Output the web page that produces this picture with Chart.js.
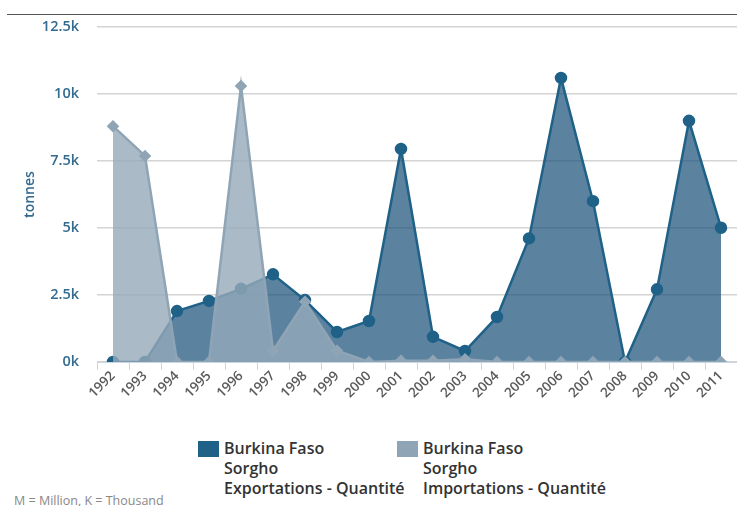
<!DOCTYPE html>
<html>
<head>
<meta charset="utf-8">
<script src="https://cdn.jsdelivr.net/npm/chart.js@4/dist/chart.umd.min.js"></script>
<style>
  body { margin: 0; background: #fff; font-family: "Open Sans", sans-serif; }
  #wrap { position: relative; width: 737px; height: 506px; overflow: hidden; }
  #topline { position: absolute; left: 7px; right: 0; top: 14px; border-top: 1px solid #555; }
  #chartBox { position: absolute; left: 0; top: 0; width: 737px; height: 420px; }
  .legend-item { position: absolute; top: 438px; font-size: 16px; font-weight: 600; color: #333; line-height: 20px; }
  .legend-box { position: absolute; left: 0; top: 3px; width: 21px; height: 16px; }
  .legend-text { margin-left: 26px; white-space: nowrap; }
  #note { position: absolute; left: 14px; top: 492px; font-size: 12.5px; color: #888; }
</style>
</head>
<body>
<div id="wrap">
  <div id="topline"></div>
  <div id="chartBox"><canvas id="sorghoChart" width="737" height="420"></canvas></div>
  <div id="legend"></div>
  <div id="note">M = Million, K = Thousand</div>
</div>
<script>
const years = ["1992", "1993", "1994", "1995", "1996", "1997", "1998", "1999", "2000", "2001",
  "2002", "2003", "2004", "2005", "2006", "2007", "2008", "2009", "2010", "2011"];
const exportsQty = [0, 0, 1900, 2280, 2730, 3270, 2310, 1120, 1530, 7950,
  940, 410, 1680, 4610, 10600, 6000, 0, 2710, 9000, 5010];
const importsQty = [8800, 7690, 0, 0, 10300, 420, 2250, 420, 0, 50,
  50, 100, 0, 0, 0, 0, 0, 0, 0, 0];
const seriesNames = [
  ["Burkina Faso", "Sorgho", "Exportations - Quantité"],
  ["Burkina Faso", "Sorgho", "Importations - Quantité"],
];
const yTicks = [0, 2500, 5000, 7500, 10000, 12500];

const darkBlue = "#1f6187";
const greyBlue = "#8fa5b5";

// imports first so it is drawn on top of exports
const chart = new Chart(document.getElementById("sorghoChart"), {
  type: "line",
  data: {
    labels: years,
    datasets: [
      {
        label: seriesNames[1].join(" "),
        data: importsQty,
        borderColor: greyBlue,
        backgroundColor: "rgba(149, 169, 185, 0.8)",
        fill: "origin",
        borderWidth: 2.5,
        tension: 0,
        pointStyle: "rectRot",
        pointRadius: 4.5,
        pointBackgroundColor: greyBlue,
        pointBorderColor: greyBlue,
      },
      {
        label: seriesNames[0].join(" "),
        data: exportsQty,
        borderColor: darkBlue,
        backgroundColor: "rgba(30, 85, 125, 0.73)",
        fill: "origin",
        borderWidth: 2.5,
        tension: 0,
        pointRadius: 5,
        pointBackgroundColor: darkBlue,
        pointBorderColor: darkBlue,
      },
    ],
  },
  options: {
    responsive: false,
    animation: false,
    layout: { autoPadding: false, padding: { top: 27, right: 0, left: 0, bottom: 0 } },
    plugins: {
      legend: { display: false },
      tooltip: { enabled: false },
    },
    scales: {
      x: {
        offset: true,
        afterFit: (s) => {
          s.height = 58;
          s.paddingLeft = 0;
          s.paddingRight = 0;
        },
        grid: {
          offset: true,
          drawOnChartArea: false,
          tickLength: 8,
          color: "#c9d6e3",
        },
        border: { color: "#c9d6e3" },
        ticks: {
          minRotation: 45,
          maxRotation: 45,
          color: "#5a5a5a",
          padding: -2,
          font: { family: "Open Sans", size: 13.5, weight: "600" },
        },
      },
      y: {
        min: 0,
        max: 12500,
        afterFit: (s) => { s.width = 97; },
        afterBuildTicks: (s) => { s.ticks = yTicks.map((v) => ({ value: v })); },
        grid: { color: "#d4d4d4", lineWidth: 1.5, drawTicks: false },
        border: { display: false },
        ticks: {
          color: "#336a8f",
          padding: 18,
          font: { family: "Open Sans", size: 14.5, weight: "600" },
          callback: (v) => v / 1000 + "k",
        },
        title: {
          display: true,
          text: "tonnes",
          color: "#336a8f",
          font: { family: "Open Sans", size: 14, weight: "600" },
          padding: { top: 22, bottom: 0 },
        },
      },
    },
  },
});

// html legend, the labels are on three lines
const legendColors = [darkBlue, greyBlue];
const legendLeft = [198, 397];
document.getElementById("legend").innerHTML = seriesNames
  .map(
    (lines, i) => `
      <div class="legend-item" style="left:${legendLeft[i]}px">
        <div class="legend-box" style="background:${legendColors[i]}"></div>
        <div class="legend-text">${lines.join("<br>")}</div>
      </div>`
  )
  .join("");
</script>
</body>
</html>
